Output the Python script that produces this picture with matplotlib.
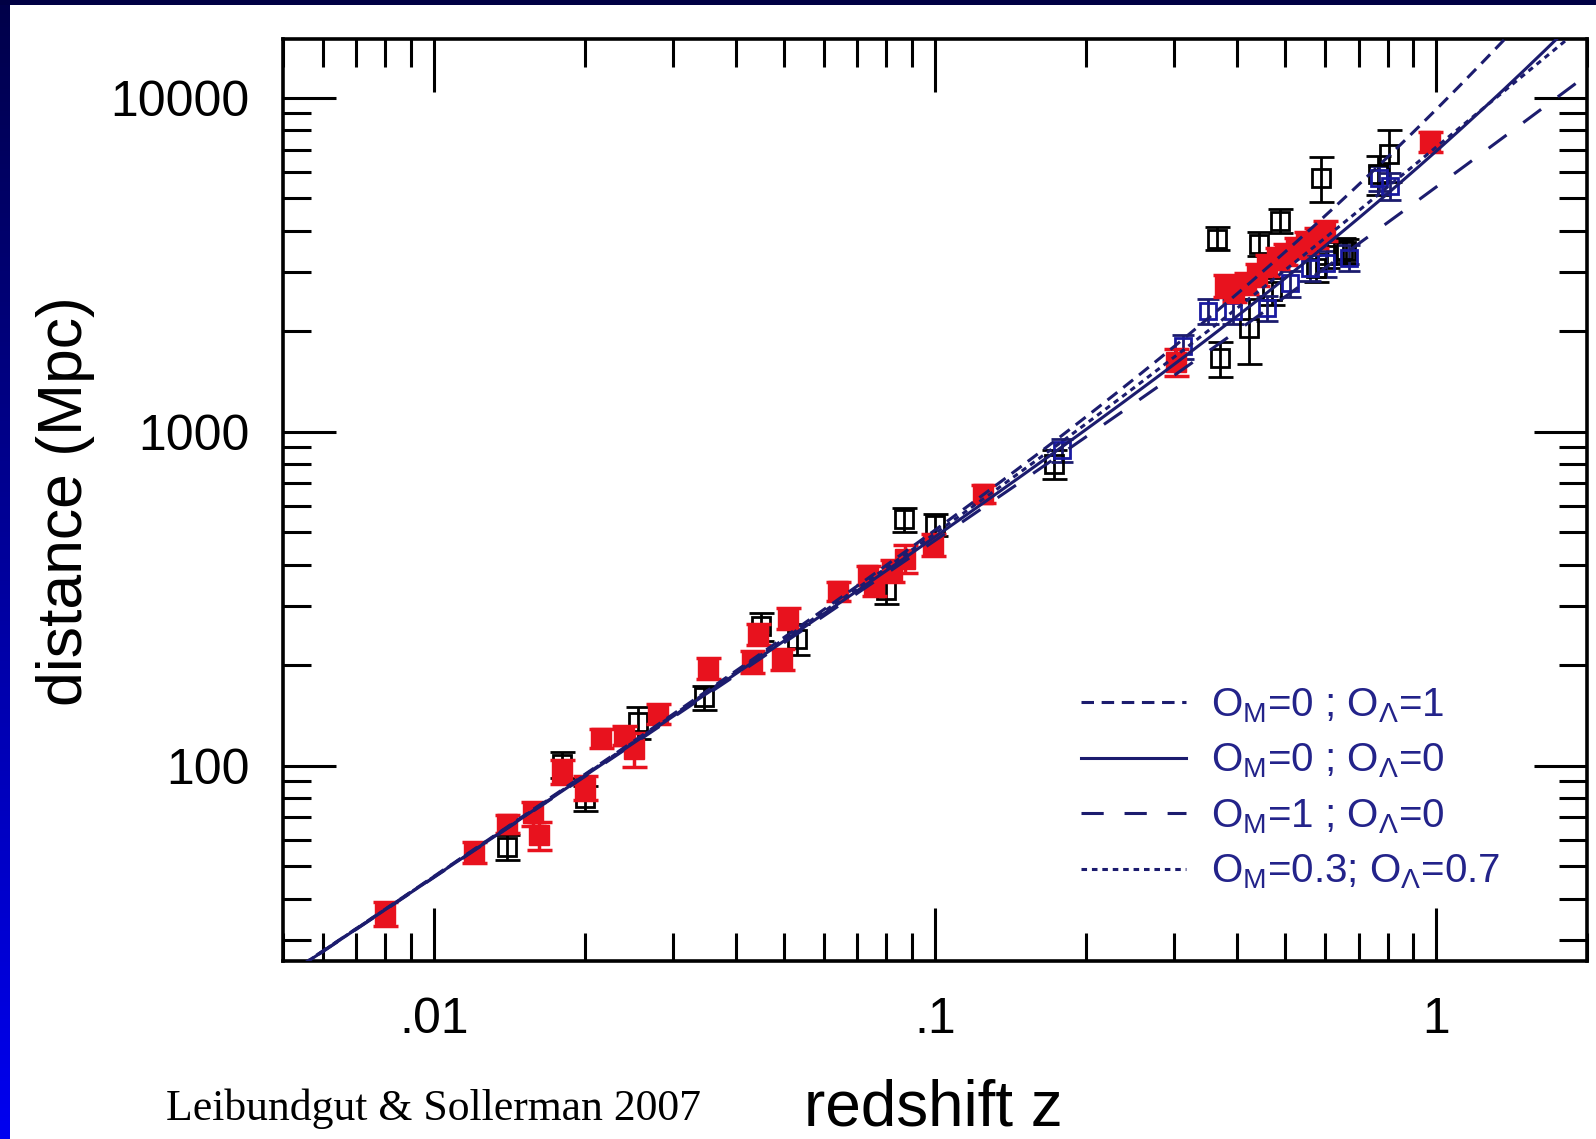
import numpy as np
import matplotlib
matplotlib.use("Agg")
import matplotlib.pyplot as plt

# ---------------- data ----------------
red_z = [0.008, 0.012, 0.0140, 0.0158, 0.0162, 0.0180, 0.0200, 0.0216, 0.0240, 0.0251,
         0.0280, 0.0353, 0.0431, 0.0443, 0.0494, 0.0509, 0.0640, 0.0734, 0.0754, 0.0820,
         0.0870, 0.0993, 0.1249, 0.302, 0.379, 0.395, 0.418, 0.440, 0.460, 0.481,
         0.500, 0.526, 0.550, 0.577, 0.600, 0.970]
red_d = [36, 55, 67, 72, 62, 96, 86, 121, 123, 112,
         143, 196, 205, 248, 208, 277, 334, 372, 346, 384,
         417, 458, 652, 1620, 2740, 2650, 2780, 2950, 3150, 3320,
         3400, 3560, 3700, 3810, 4000, 7400]
red_err = [3, 4, 4, 6, 6, 8, 7, 8, 8, 13,
           10, 14, 15, 18, 15, 20, 22, 25, 24, 28,
           40, 35, 40, 150, 200, 200, 200, 220, 230, 240,
           250, 250, 260, 270, 280, 500]

black_z = [0.0140, 0.0180, 0.0200, 0.0256, 0.0346, 0.0450, 0.0530, 0.0800, 0.0866, 0.1000,
           0.1730, 0.366, 0.370, 0.424, 0.444, 0.470, 0.487, 0.577, 0.590, 0.607,
           0.653, 0.662, 0.767, 0.806]
black_d = [57, 101, 80, 135, 160, 262, 240, 335, 546, 527,
           800, 3790, 1660, 2050, 3660, 2640, 4280, 3100, 5760, 3390,
           3500, 3480, 5900, 6800]
black_err = [5, 9, 7, 15, 13, 25, 25, 30, 45, 40,
             80, 300, 200, 450, 300, 250, 350, 300, 900, 300,
             300, 300, 800, 1200]

blue_z = [0.179, 0.312, 0.350, 0.393, 0.459, 0.510, 0.559, 0.604, 0.671, 0.770, 0.810]
blue_d = [880, 1800, 2300, 2300, 2350, 2780, 3100, 3190, 3320, 5760, 5450]
blue_err = [70, 150, 200, 200, 200, 250, 280, 280, 300, 500, 500]

# cosmological models (Omega_M, Omega_Lambda), H0 in km/s/Mpc
model_om = [0.0, 0.0, 1.0, 0.3]
model_ol = [1.0, 0.0, 0.0, 0.7]
model_labels = [r"O$_{\rm M}$=0 ; O$_{\Lambda}$=1",
                r"O$_{\rm M}$=0 ; O$_{\Lambda}$=0",
                r"O$_{\rm M}$=1 ; O$_{\Lambda}$=0",
                r"O$_{\rm M}$=0.3; O$_{\Lambda}$=0.7"]
H0 = 65.0

x_ticks = [0.01, 0.1, 1]
x_ticklabels = [".01", ".1", "1"]
y_ticks = [100, 1000, 10000]
y_ticklabels = ["100", "1000", "10000"]

# ---------------- helpers ----------------
C_KMS = 299792.458


def lum_dist(z, om, ol):
    zz = np.linspace(0, z.max(), 4000)
    ok = 1.0 - om - ol
    E = np.sqrt(om * (1 + zz) ** 3 + ok * (1 + zz) ** 2 + ol)
    inv = 1.0 / E
    dc = np.concatenate([[0], np.cumsum(0.5 * (inv[1:] + inv[:-1]) * np.diff(zz))])
    dc = np.interp(z, zz, dc)
    if ok > 1e-9:
        dm = np.sinh(np.sqrt(ok) * dc) / np.sqrt(ok)
    elif ok < -1e-9:
        dm = np.sin(np.sqrt(-ok) * dc) / np.sqrt(-ok)
    else:
        dm = dc
    return (1 + z) * dm * C_KMS / H0


# ---------------- figure ----------------
plt.rcParams["font.family"] = ["Liberation Sans", "DejaVu Sans"]
plt.rcParams["mathtext.fontset"] = "custom"
plt.rcParams["mathtext.rm"] = "Liberation Sans"
plt.rcParams["mathtext.it"] = "Liberation Sans:italic"
plt.rcParams["lines.scale_dashes"] = False

W, H = 1596, 1139
fig = plt.figure(figsize=(W / 100, H / 100), dpi=100)
fig.patch.set_facecolor("white")

ax = fig.add_axes([283 / W, 1 - 961 / H, (1587 - 283) / W, (961 - 39) / H])
ax.set_xscale("log")
ax.set_yscale("log")
ax.set_xlim(0.005, 2.0)
ax.set_ylim(26, 15000)

navy = "#1c1c6e"
red = "#e8121e"

ax.errorbar(red_z, red_d, yerr=red_err, fmt="s", ms=15, mfc=red, mec=red,
            ecolor=red, elinewidth=2.5, capsize=9, capthick=2.5, zorder=3)
ax.errorbar(black_z, black_d, yerr=black_err, fmt="s", ms=13, mfc="none", mec="black",
            mew=2.0, ecolor="black", elinewidth=2.0, capsize=9, capthick=2.0, zorder=2)
ax.errorbar(blue_z, blue_d, yerr=blue_err, fmt="s", ms=12, mfc="none", mec="#1a1aa0",
            mew=2.0, ecolor=navy, elinewidth=2.0, capsize=8, capthick=2.0, zorder=2)

zgrid = np.logspace(np.log10(0.005), np.log10(2.0), 500)
styles = [(0, (9, 5.5)), "-", (0, (16, 15)), (0, (4, 3.5))]
handles = []
for om, ol, ls, lab in zip(model_om, model_ol, styles, model_labels):
    ln, = ax.plot(zgrid, lum_dist(zgrid, om, ol), color=navy, lw=2.2, ls=ls,
                  zorder=4, label=lab)
    handles.append(ln)

leg = ax.legend(handles=handles, loc="upper left", bbox_to_anchor=(0.612, 0.298),
                frameon=False, fontsize=29, labelcolor="#23238a", handlelength=2.6,
                handletextpad=0.62, labelspacing=0.42, borderpad=0, borderaxespad=0)

# ticks & spines
ax.set_xticks(x_ticks)
ax.set_xticklabels(x_ticklabels)
ax.set_yticks(y_ticks)
ax.set_yticklabels(y_ticklabels)
ax.tick_params(which="both", direction="in", top=True, right=True, color="black")
ax.tick_params(which="major", length=38, width=2.2, labelsize=36, pad=24)
ax.tick_params(which="minor", length=20, width=2.2)
ax.tick_params(axis="x", which="major", pad=26)
for sp in ax.spines.values():
    sp.set_linewidth(2.6)

fig.text(66 / W, 1 - 501 / H, "distance (Mpc)", fontsize=45, rotation=90,
         ha="center", va="center")
fig.text(933 / W, (H - 1125) / H, "redshift z", fontsize=46, ha="center", va="baseline")
fig.text(166 / W, (H - 1120) / H, "Leibundgut & Sollerman 2007", fontsize=31.5,
         family=["Liberation Serif", "DejaVu Serif"], ha="left", va="baseline")

# slide border: dark top strip and blue gradient on the left
top = fig.add_axes([0, 1 - 5 / H, 1, 5 / H])
top.set_axis_off()
top.imshow([[0]], cmap=matplotlib.colors.ListedColormap(["#000044"]), aspect="auto")
left = fig.add_axes([0, 0, 10 / W, 1 - 5 / H])
left.set_axis_off()
grad = np.linspace(0, 1, 256).reshape(-1, 1)
cmap = matplotlib.colors.LinearSegmentedColormap.from_list("b", ["#00004a", "#0000f0"])
left.imshow(grad, cmap=cmap, aspect="auto")

fig.savefig("out.png", dpi=100)
